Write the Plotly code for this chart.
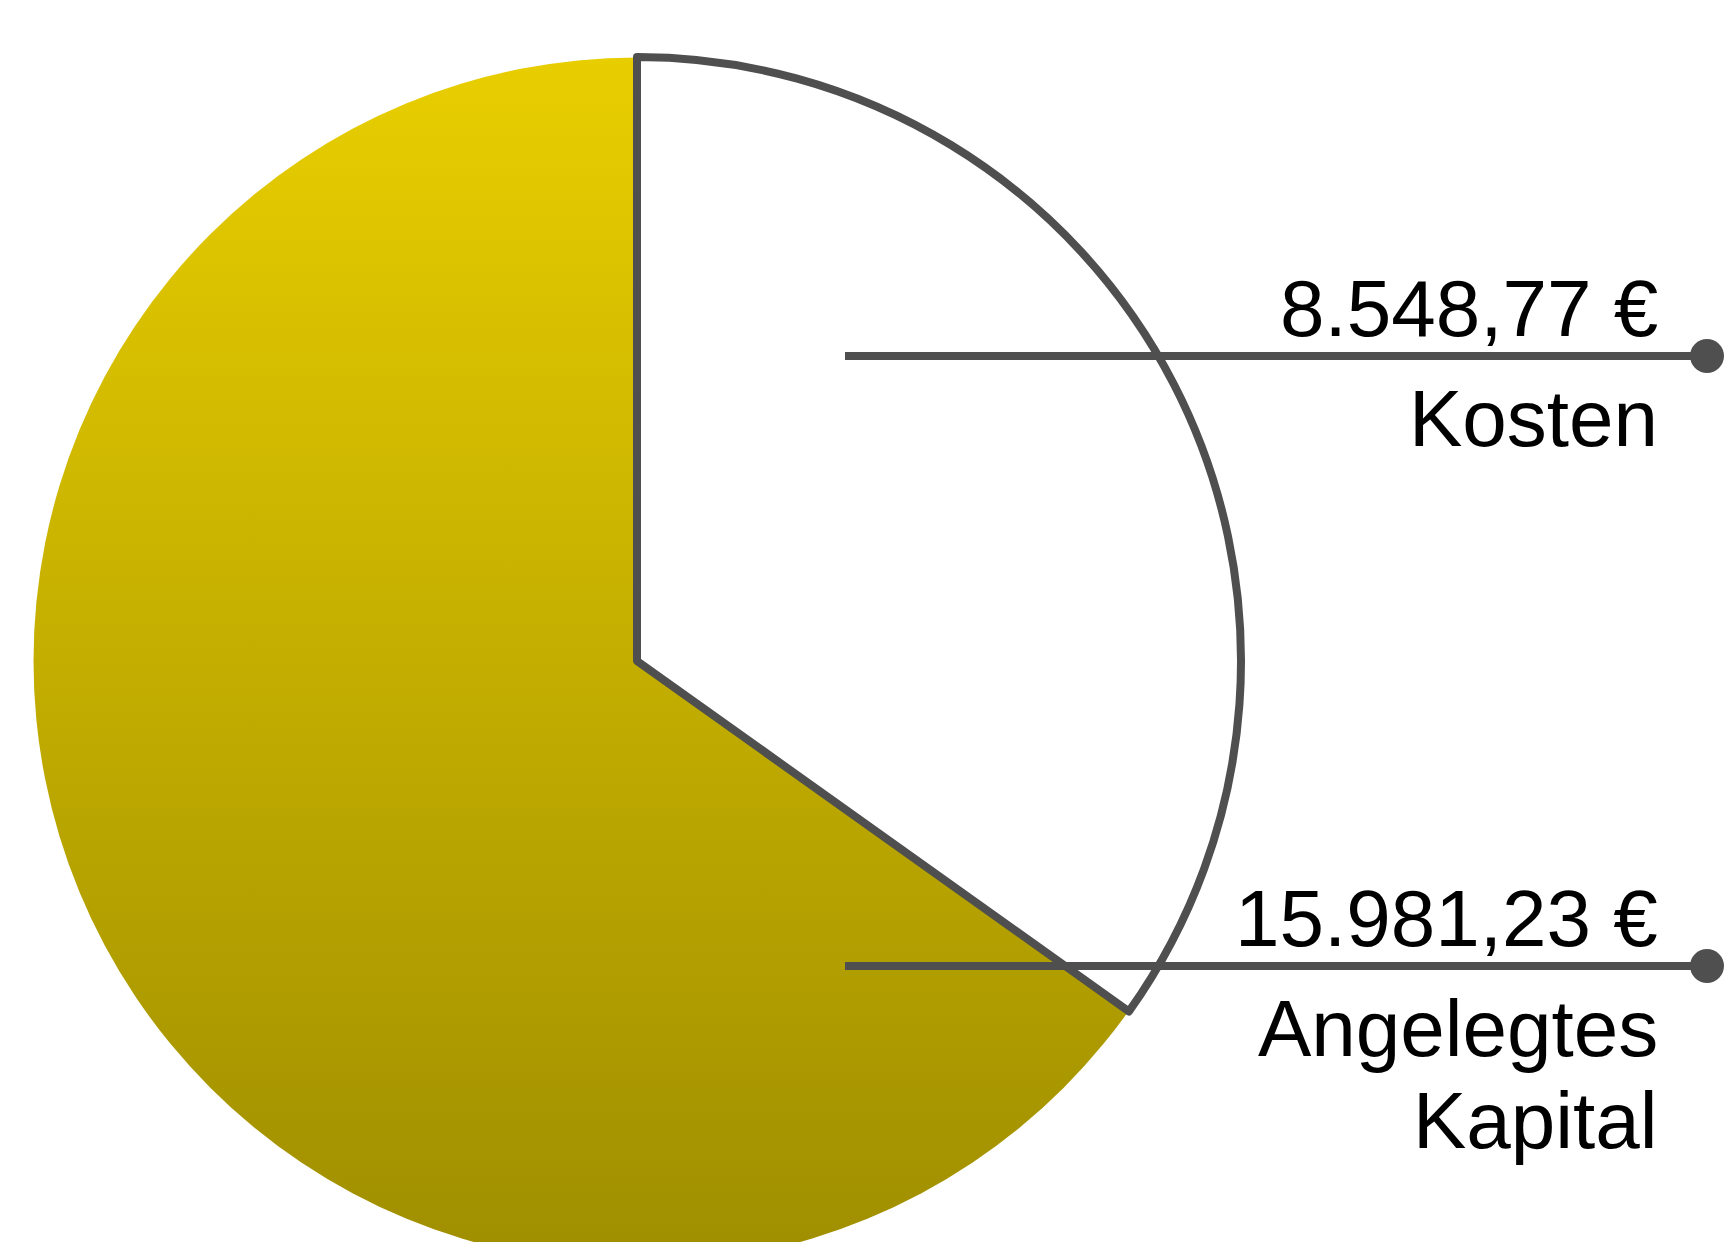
import base64
import plotly.graph_objects as go

# ---- data ----
labels = ["Kosten", "Angelegtes Kapital"]
values = [8548.77, 15981.23]
currency = "€"

# ---- styling / layout constants ----
W, H = 1727, 1280          # figure is taller than the viewport; bottom is clipped like the reference
VIEW_H = 1242
PIE_LEFT, PIE_TOP, PIE_SIZE = 33, 57, 1208
EDGE_COLOR = "#4f4f4f"
EDGE_W = 8
SLICE_FILL = {"Kosten": "#ffffff", "Angelegtes Kapital": "rgba(0,0,0,0)"}
SLICE_EDGE = {"Kosten": EDGE_W, "Angelegtes Kapital": 0}
GOLD_TOP, GOLD_BOTTOM = "#E8CE00", "#9F8E00"
FONT = "Liberation Sans, Arial, sans-serif"
FONT_SIZE = 80
CALLOUT_Y = {"Kosten": 356, "Angelegtes Kapital": 966}
CALLOUT_X0, CALLOUT_X1 = 845, 1707
TEXT_RIGHT = 1660
DOT_R = 17


def px_x(p):
    return p / W


def px_y(p):
    return 1 - p / H


def fmt_de(v):
    s = f"{v:,.2f}"
    return s.replace(",", "X").replace(".", ",").replace("X", ".") + " " + currency


dom_x = [px_x(PIE_LEFT), px_x(PIE_LEFT + PIE_SIZE)]
dom_y = [px_y(PIE_TOP + PIE_SIZE), px_y(PIE_TOP)]

fig = go.Figure()
fig.add_trace(go.Pie(
    labels=labels,
    values=values,
    sort=False,
    direction="clockwise",
    rotation=0,
    textinfo="none",
    hoverinfo="skip",
    showlegend=False,
    domain=dict(x=dom_x, y=dom_y),
    marker=dict(
        colors=[SLICE_FILL[l] for l in labels],
        line=dict(color=EDGE_COLOR, width=[SLICE_EDGE[l] for l in labels]),
    ),
))

# vertical gold gradient shown through the transparent "Angelegtes Kapital" slice
svg = (
    f"<svg xmlns='http://www.w3.org/2000/svg' width='{PIE_SIZE}' height='{PIE_SIZE}' "
    f"viewBox='0 0 {PIE_SIZE} {PIE_SIZE}'><defs><linearGradient id='g' x1='0' y1='0' x2='0' y2='1'>"
    f"<stop offset='0' stop-color='{GOLD_TOP}'/><stop offset='1' stop-color='{GOLD_BOTTOM}'/>"
    f"</linearGradient></defs><circle cx='{PIE_SIZE/2}' cy='{PIE_SIZE/2}' r='{PIE_SIZE/2 - 0.5}' fill='url(#g)'/></svg>"
)
src = "data:image/svg+xml;base64," + base64.b64encode(svg.encode()).decode()
fig.add_layout_image(dict(
    source=src, xref="paper", yref="paper",
    x=dom_x[0], y=dom_y[1], sizex=dom_x[1] - dom_x[0], sizey=dom_y[1] - dom_y[0],
    xanchor="left", yanchor="top", sizing="stretch", layer="below",
))

shapes = []
annotations = []
for lab, val in zip(labels, values):
    cy = CALLOUT_Y[lab]
    shapes.append(dict(type="line", xref="paper", yref="paper",
                       x0=px_x(CALLOUT_X0), x1=px_x(CALLOUT_X1), y0=px_y(cy), y1=px_y(cy),
                       line=dict(color=EDGE_COLOR, width=EDGE_W)))
    shapes.append(dict(type="circle", xref="paper", yref="paper",
                       x0=px_x(CALLOUT_X1 - DOT_R), x1=px_x(CALLOUT_X1 + DOT_R),
                       y0=px_y(cy + DOT_R), y1=px_y(cy - DOT_R),
                       fillcolor=EDGE_COLOR, line=dict(width=0)))
    annotations.append(dict(text=fmt_de(val), xref="paper", yref="paper",
                            x=px_x(TEXT_RIGHT), y=px_y(cy - 47.5),
                            xanchor="right", yanchor="middle", showarrow=False,
                            font=dict(family=FONT, size=FONT_SIZE, color="#000000")))
    for i, part in enumerate(lab.split(" ")):
        annotations.append(dict(text=part, xref="paper", yref="paper",
                                x=px_x(TEXT_RIGHT), y=px_y(cy + 62.5 + i * 91.5),
                                xanchor="right", yanchor="middle", showarrow=False,
                                font=dict(family=FONT, size=FONT_SIZE, color="#000000")))

fig.update_layout(
    width=W, height=H,
    margin=dict(l=0, r=0, t=0, b=0),
    paper_bgcolor="#ffffff",
    shapes=shapes,
    annotations=annotations,
    font=dict(family=FONT),
)

post = (
    "var gd=document.getElementById('{plot_id}');"
    "document.documentElement.style.margin='0';document.body.style.margin='0';"
    "document.documentElement.style.overflow='hidden';document.body.style.overflow='hidden';"
    f"gd.parentElement.style.height='{VIEW_H}px';gd.parentElement.style.overflow='hidden';"
)
fig.write_html("out.html", config={"displayModeBar": False, "staticPlot": True}, post_script=post)
